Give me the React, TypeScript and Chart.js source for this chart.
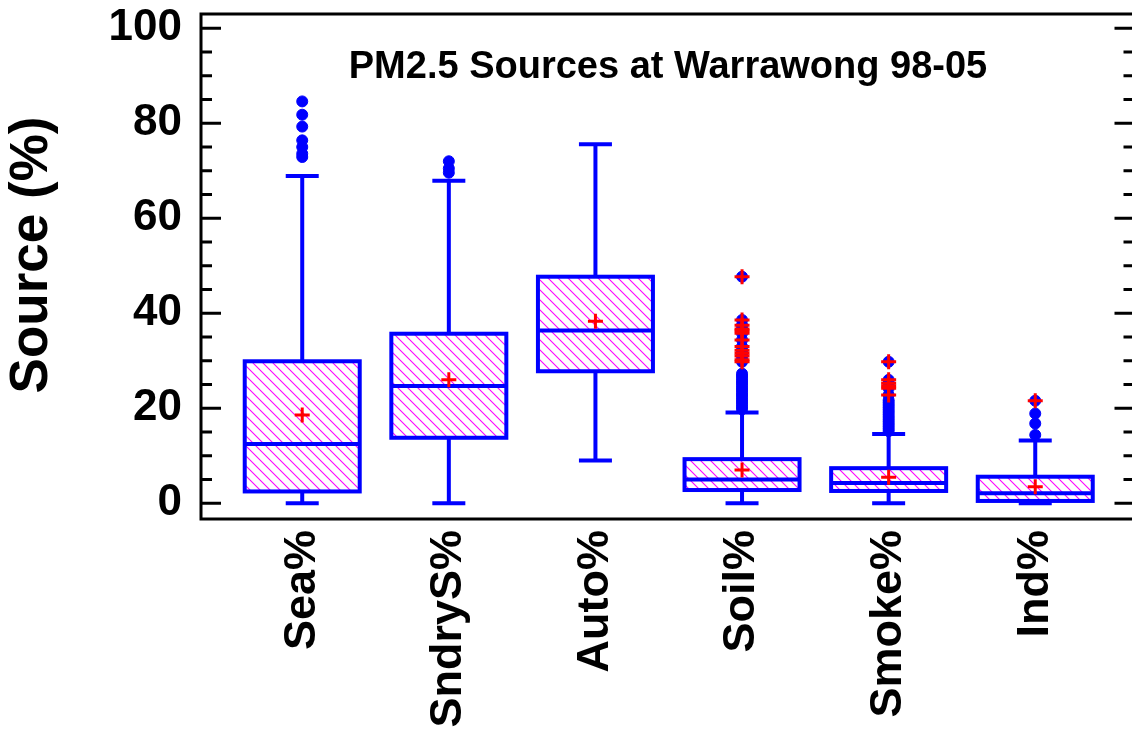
import React, { useEffect, useRef } from 'react';
import { Chart, registerables } from 'chart.js';

Chart.register(...registerables);

// ---- data ----
const categories = ['Sea%', 'SndryS%', 'Auto%', 'Soil%', 'Smoke%', 'Ind%'];
const whiskerLow = [0, 0, 9.0, 0, 0, 0];
const q1 = [2.5, 13.8, 27.8, 2.8, 2.6, 0.5];
const median = [12.5, 24.7, 36.4, 5.0, 4.3, 2.1];
const q3 = [29.9, 35.7, 47.7, 9.3, 7.4, 5.6];
const whiskerHigh = [68.9, 67.9, 75.6, 19.1, 14.6, 13.2];
const means = [18.6, 26.0, 38.3, 7.0, 5.5, 3.5];

const seaOutliers = [72.9, 73.6, 75.0, 76.4, 79.3, 81.8, 84.6];
const sndryOutliers = [69.6, 70.5, 72.0];
const autoOutliers: number[] = [];
const soilOutliers = [19.8, 20.3, 20.8, 21.3, 21.8, 22.3, 22.8, 23.3, 23.8, 24.3, 24.8, 25.3, 25.8, 26.3, 26.8, 27.3];
const smokeOutliers = [15.2, 15.7, 16.2, 16.7, 17.2, 17.7, 18.2, 18.7, 19.2, 19.7, 20.2, 20.7, 21.2, 21.7];
const indOutliers = [14.4, 16.8, 18.9];

const seaFar: number[] = [];
const sndryFar: number[] = [];
const autoFar: number[] = [];
const soilFar = [29.8, 30.2, 31.0, 31.6, 32.2, 33.0, 34.4, 35.8, 36.3, 36.7, 37.5, 38.6, 47.7];
const smokeFar = [22.8, 24.2, 24.7, 25.3, 26.0, 29.8];
const indFar = [21.6];

const yTicks = [0, 20, 40, 60, 80, 100];
const yMinor = [0, 5, 10, 15, 20, 25, 30, 35, 40, 45, 50, 55, 60, 65, 70, 75, 80, 85, 90, 95, 100];

const titleText = 'PM2.5 Sources at Warrawong 98-05';
const yTitle = 'Source (%)';

const FONT = '"Liberation Sans", Arial, Helvetica, sans-serif';
const BLUE = '#0000ff';
const RED = '#ff0000';
const MAGENTA = '#ff00ff';
const BOX_HALF = 57.5;
const CAP_HALF = 16.5;

function makeHatch(): CanvasPattern | string {
  const s = 10;
  const c = document.createElement('canvas');
  c.width = s;
  c.height = s;
  const g = c.getContext('2d');
  if (!g) return '#ffffff';
  g.fillStyle = '#ffffff';
  g.fillRect(0, 0, s, s);
  g.strokeStyle = MAGENTA;
  g.lineWidth = 1.1;
  for (const k of [-s, 0, s]) {
    g.beginPath();
    g.moveTo(-1, -1 + k);
    g.lineTo(s + 1, s + 1 + k);
    g.stroke();
  }
  const p = g.createPattern(c, 'repeat');
  return p || '#ffffff';
}

const decorPlugin = {
  id: 'decor',
  beforeDatasetsDraw(chart: any) {
    const ctx = chart.ctx;
    const xs = chart.scales.x;
    const ys = chart.scales.y;
    ctx.save();
    ctx.strokeStyle = BLUE;
    ctx.lineWidth = 4;
    ctx.lineCap = 'butt';
    categories.forEach((_, i) => {
      const x = xs.getPixelForValue(i);
      const yHi = ys.getPixelForValue(whiskerHigh[i]);
      const yLo = ys.getPixelForValue(whiskerLow[i]);
      const yQ3 = ys.getPixelForValue(q3[i]);
      const yQ1 = ys.getPixelForValue(q1[i]);
      ctx.beginPath();
      ctx.moveTo(x, yQ3);
      ctx.lineTo(x, yHi);
      ctx.moveTo(x, yQ1);
      ctx.lineTo(x, yLo);
      ctx.moveTo(x - CAP_HALF, yHi);
      ctx.lineTo(x + CAP_HALF, yHi);
      ctx.moveTo(x - CAP_HALF, yLo);
      ctx.lineTo(x + CAP_HALF, yLo);
      ctx.stroke();
    });
    ctx.restore();
  },
  afterDatasetDraw(chart: any, args: any) {
    if (args.index !== 0) return;
    const ctx = chart.ctx;
    const xs = chart.scales.x;
    const ys = chart.scales.y;
    ctx.save();
    ctx.strokeStyle = BLUE;
    ctx.lineWidth = 4;
    categories.forEach((_, i) => {
      const x = xs.getPixelForValue(i);
      const yQ3 = ys.getPixelForValue(q3[i]);
      const yQ1 = ys.getPixelForValue(q1[i]);
      const yMed = ys.getPixelForValue(median[i]);
      ctx.strokeRect(x - BOX_HALF, yQ3, BOX_HALF * 2, yQ1 - yQ3);
      ctx.beginPath();
      ctx.moveTo(x - BOX_HALF, yMed);
      ctx.lineTo(x + BOX_HALF, yMed);
      ctx.stroke();
    });
    ctx.restore();
  },
  afterDraw(chart: any) {
    const ctx = chart.ctx;
    const ca = chart.chartArea;
    const ys = chart.scales.y;
    ctx.save();
    // frame
    ctx.strokeStyle = '#000';
    ctx.lineWidth = 3;
    ctx.strokeRect(ca.left, ca.top, ca.right - ca.left, ca.bottom - ca.top);
    // inward ticks on both sides
    ctx.lineWidth = 3;
    yMinor.forEach((v) => {
      const y = ys.getPixelForValue(v);
      const len = yTicks.includes(v) ? 20 : 11;
      ctx.beginPath();
      ctx.moveTo(ca.left, y);
      ctx.lineTo(ca.left + len, y);
      ctx.moveTo(ca.right, y);
      ctx.lineTo(ca.right - len, y);
      ctx.stroke();
    });
    // title inside plot
    ctx.fillStyle = '#000';
    ctx.font = `bold 38px ${FONT}`;
    ctx.textAlign = 'center';
    ctx.textBaseline = 'alphabetic';
    ctx.fillText(titleText, 668, 78);
    // y axis title
    ctx.translate(32, 255);
    ctx.rotate(-Math.PI / 2);
    ctx.font = `bold 53px ${FONT}`;
    ctx.textBaseline = 'middle';
    ctx.fillText(yTitle, 0, 0);
    ctx.restore();
  },
};

export default function App() {
  const ref = useRef<HTMLCanvasElement | null>(null);

  useEffect(() => {
    document.body.style.margin = '0';
    const canvas = ref.current;
    if (!canvas) return;
    const hatch = makeHatch();

    const outlierPts: { x: number; y: number }[] = [];
    const crossPts: { x: number; y: number }[] = [];
    const outs = [seaOutliers, sndryOutliers, autoOutliers, soilOutliers, smokeOutliers, indOutliers];
    const fars = [seaFar, sndryFar, autoFar, soilFar, smokeFar, indFar];
    outs.forEach((arr, i) => arr.forEach((v) => outlierPts.push({ x: i, y: v })));
    fars.forEach((arr, i) =>
      arr.forEach((v) => {
        outlierPts.push({ x: i, y: v });
        crossPts.push({ x: i, y: v });
      })
    );
    means.forEach((v, i) => crossPts.push({ x: i, y: v }));

    const chart = new Chart(canvas, {
      type: 'bar',
      data: {
        datasets: [
          {
            type: 'bar',
            data: categories.map((_, i) => ({ x: i, y: [q1[i], q3[i]] })) as any,
            backgroundColor: hatch as any,
            borderWidth: 0,
            barThickness: BOX_HALF * 2,
            order: 10,
          },
          {
            type: 'scatter',
            data: outlierPts,
            pointStyle: 'circle',
            pointRadius: 5.5,
            pointBorderWidth: 1,
            pointBackgroundColor: BLUE,
            pointBorderColor: BLUE,
            order: 5,
          } as any,
          {
            type: 'scatter',
            data: crossPts,
            pointStyle: 'cross',
            pointRadius: 7.5,
            pointBorderWidth: 3,
            pointBorderColor: RED,
            pointBackgroundColor: RED,
            order: 1,
          } as any,
        ],
      },
      options: {
        responsive: false,
        animation: false,
        events: [],
        layout: { padding: { top: 14, right: 8, left: 0, bottom: 0 } },
        plugins: {
          legend: { display: false },
          tooltip: { enabled: false },
          title: { display: false },
        },
        scales: {
          x: {
            type: 'linear',
            min: -0.6905,
            max: 5.677,
            offset: false,
            afterBuildTicks: (s: any) => {
              s.ticks = categories.map((_, i) => ({ value: i }));
            },
            afterFit: (s: any) => {
              s.height = 215;
              s.paddingLeft = 0;
              s.paddingRight = 0;
            },
            grid: { display: false, drawTicks: false },
            border: { display: false },
            ticks: {
              autoSkip: false,
              minRotation: 90,
              maxRotation: 90,
              padding: 11,
              color: '#000',
              font: { family: FONT, weight: 'bold', size: 45 },
              callback: (v: any) => categories[Math.round(Number(v))] ?? '',
            },
          },
          y: {
            type: 'linear',
            min: -3.3,
            max: 103.0,
            afterBuildTicks: (s: any) => {
              s.ticks = yTicks.map((v) => ({ value: v }));
            },
            afterFit: (s: any) => {
              s.width = 201;
              s.paddingTop = 0;
              s.paddingBottom = 0;
            },
            grid: { display: false, drawTicks: false },
            border: { display: false },
            ticks: {
              padding: 19,
              color: '#000',
              font: { family: FONT, weight: 'bold', size: 44 },
              callback: (v: any) => String(v),
            },
          },
        },
      } as any,
      plugins: [decorPlugin],
    });

    return () => {
      chart.destroy();
    };
  }, []);

  return (
    <div style={{ width: 1132, height: 734, overflow: 'hidden', position: 'relative', background: '#fff' }}>
      <canvas ref={ref} width={1145} height={734} style={{ display: 'block' }} />
    </div>
  );
}
